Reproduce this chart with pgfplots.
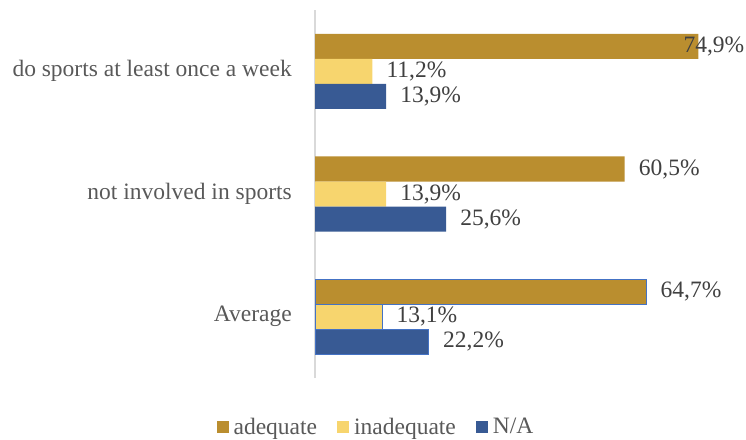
\documentclass[border=0pt]{standalone}
\usepackage{fontspec}
\setmainfont{Liberation Serif}
\usepackage{pgfplots}
\pgfplotsset{compat=1.18}
\definecolor{adeq}{HTML}{BA8E2F}
\definecolor{inad}{HTML}{F7D56E}
\definecolor{na}{HTML}{385A94}
\definecolor{outl}{HTML}{4472C4}
\definecolor{axgray}{HTML}{D9D9D9}
\definecolor{txt}{HTML}{595959}
\definecolor{lbl}{HTML}{404040}
\newcommand{\bigfont}{\fontsize{23.5pt}{28pt}\selectfont}
\pgfplotsset{sq/.style={legend image code/.code={\fill[##1,draw=none] (0pt,-6pt) rectangle (12pt,6pt);}}}
\begin{document}
\begin{tikzpicture}
\useasboundingbox (0,0) rectangle (746pt,439pt);
\begin{axis}[
  at={(315pt,61pt)}, anchor=south west,
  scale only axis, width=430pt, height=368pt,
  xbar, bar width=25pt,
  xmin=0, xmax=84, ymin=-0.5, ymax=2.5,
  clip=false,
  axis x line=none,
  axis y line*=left,
  y axis line style={axgray, line width=2pt, -},
  ytick={0,1,2},
  yticklabels={Average, not involved in sports, do sports at least once a week},
  major tick length=0pt,
  yticklabel style={text=txt, font=\bigfont, inner sep=0pt, xshift=-23pt},
  point meta=x,
  visualization depends on={value \thisrow{dx} \as \dx},
  nodes near coords={\pgfmathprintnumber[fixed,fixed zerofill,precision=1,use comma,assume math mode=true]{\pgfplotspointmeta}\%},
  nodes near coords style={text=lbl, anchor=west, inner sep=0pt, font=\bigfont, xshift=\dx pt},
  legend columns=3,
  legend style={at={(0.1453,-0.133)}, anchor=center, draw=none, font=\bigfont, text=txt,
    nodes={inner xsep=5pt, inner ysep=0pt},
    /tikz/every even column/.append style={column sep=15pt}},
]
\addplot[fill=adeq, draw=none, bar shift=25pt, sq] table[x=v,y=y]{
y v dx
1 60.5 14
2 74.9 -15
};
\addlegendentry{adequate}
\addplot[fill=inad, draw=none, bar shift=0pt, sq] table[x=v,y=y]{
y v dx
1 13.9 14
2 11.2 14
};
\addlegendentry{inadequate}
\addplot[fill=na, draw=none, bar shift=-25pt, sq] table[x=v,y=y]{
y v dx
1 25.6 14
2 13.9 14
};
\addlegendentry{N/A}
\addplot[fill=adeq, draw=outl, line width=1pt, bar shift=25pt, forget plot] table[x=v,y=y]{
y v dx
0 64.7 14
};
\addplot[fill=inad, draw=outl, line width=1pt, bar shift=0pt, forget plot] table[x=v,y=y]{
y v dx
0 13.1 14
};
\addplot[fill=na, draw=outl, line width=1pt, bar shift=-25pt, forget plot] table[x=v,y=y]{
y v dx
0 22.2 14
};
\end{axis}
\end{tikzpicture}
\end{document}
